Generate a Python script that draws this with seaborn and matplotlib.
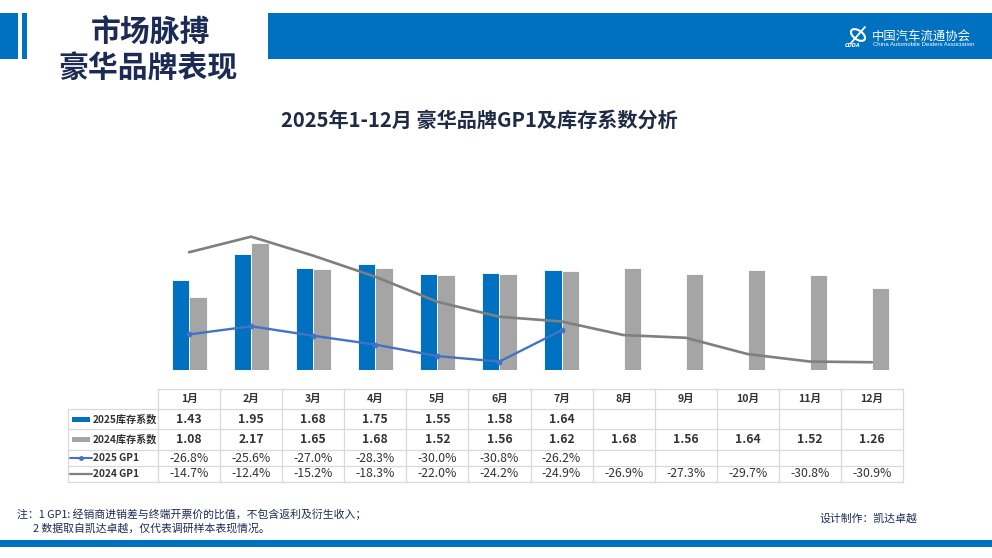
import numpy as np
import pandas as pd
import matplotlib
matplotlib.use("Agg")
import matplotlib.pyplot as plt
import matplotlib.transforms as mtrans
from matplotlib.lines import Line2D
from matplotlib.patches import Rectangle, Ellipse
import seaborn as sns

# ---------------- data ----------------
months = ["1月", "2月", "3月", "4月", "5月", "6月", "7月", "8月", "9月", "10月", "11月", "12月"]
stock_2025 = [1.43, 1.95, 1.68, 1.75, 1.55, 1.58, 1.64, None, None, None, None, None]
stock_2024 = [1.08, 2.17, 1.65, 1.68, 1.52, 1.56, 1.62, 1.68, 1.56, 1.64, 1.52, 1.26]
gp1_2025 = [-26.8, -25.6, -27.0, -28.3, -30.0, -30.8, -26.2, None, None, None, None, None]
gp1_2024 = [-14.7, -12.4, -15.2, -18.3, -22.0, -24.2, -24.9, -26.9, -27.3, -29.7, -30.8, -30.9]
series_labels = ["2025库存系数", "2024库存系数", "2025 GP1", "2024 GP1"]

title = "2025年1-12月 豪华品牌GP1及库存系数分析"
header_lines = ["市场脉搏", "豪华品牌表现"]
note_lines = ["注：1 GP1: 经销商进销差与终端开票价的比值，不包含返利及衍生收入；",
              "2 数据取自凯达卓越，仅代表调研样本表现情况。"]
credit = "设计制作：凯达卓越"
logo_cn = "中国汽车流通协会"
logo_en = "China Automobile Dealers Association"

# ---------------- style ----------------
BLUE = "#0070C0"
GRAY = "#A5A5A5"
LINE_BLUE = "#4472C4"
LINE_GRAY = "#7F7F7F"
NAVY = "#1C2B55"
TXT = "#333333"
GRID = "#D9D9D9"

sns.set_theme(style="white")
plt.rcParams["font.family"] = ["Noto Sans CJK SC", "DejaVu Sans"]

W, H = 992, 558
fig = plt.figure(figsize=(W / 100, H / 100), dpi=100)
fig.patch.set_facecolor("white")

bg = fig.add_axes([0, 0, 1, 1])
bg.set_xlim(0, W)
bg.set_ylim(H, 0)
bg.axis("off")


def fy(py):
    return 1 - py / H


base_px, top_px = 369.7, 200.0
ax = fig.add_axes([158 / W, fy(base_px), (903 - 158) / W, (base_px - top_px) / H])
ax.patch.set_alpha(0)

# ---------------- bars ----------------
bar_df = pd.DataFrame({
    "月份": months * 2,
    "系列": [series_labels[0]] * 12 + [series_labels[1]] * 12,
    "库存系数": stock_2025 + stock_2024,
}).dropna()
bar_df["库存系数"] = bar_df["库存系数"].astype(float)

sns.barplot(data=bar_df, x="月份", y="库存系数", hue="系列", order=months,
            hue_order=series_labels[:2], palette=[BLUE, GRAY], width=0.565,
            errorbar=None, saturation=1, edgecolor="white", linewidth=0.6,
            legend=False, ax=ax)

bar_min, bar_max = -0.39, 3.05
ax.set_ylim(bar_min, bar_max)
# bars start at the axis floor (as in the source chart)
for p in ax.patches:
    top = p.get_y() + p.get_height()
    p.set_y(bar_min)
    p.set_height(top - bar_min)
ax.set_xlim(-0.5, len(months) - 0.5)

# ---------------- lines ----------------
ax2 = ax.twinx()
gp_df = pd.DataFrame({
    "idx": list(range(12)) * 2,
    "系列": [series_labels[2]] * 12 + [series_labels[3]] * 12,
    "GP1": gp1_2025 + gp1_2024,
}).dropna()
gp_df["GP1"] = gp_df["GP1"].astype(float)

sns.lineplot(data=gp_df[gp_df["系列"] == series_labels[3]], x="idx", y="GP1",
             color=LINE_GRAY, linewidth=1.9, ax=ax2, legend=False)
sns.lineplot(data=gp_df[gp_df["系列"] == series_labels[2]], x="idx", y="GP1",
             color=LINE_BLUE, linewidth=1.7, marker="o", markersize=4.2,
             markeredgewidth=0, ax=ax2, legend=False)
ax2.set_ylim(-32.0, -7.0)
ax2.set_xlim(-0.5, len(months) - 0.5)
ax.set_axis_off()
ax2.set_axis_off()

# ---------------- header ----------------
bg.add_patch(Rectangle((0, 13), 18, 46, color=BLUE, lw=0))
bg.add_patch(Rectangle((22, 13), 5, 46, color=BLUE, lw=0))
bg.add_patch(Rectangle((268, 13), W - 268, 46, color=BLUE, lw=0))
bg.text(150, 33, header_lines[0], ha="center", va="center", fontsize=21.5,
        fontweight="bold", color=NAVY)
bg.text(148, 68, header_lines[1], ha="center", va="center", fontsize=21.5,
        fontweight="bold", color=NAVY)

# logo
bg.add_patch(Ellipse((858, 35), 16, 9, angle=35, fill=False, ec="white", lw=1.5))
bg.plot([851, 865], [43, 27], color="white", lw=1.3)
bg.text(845, 45.5, "CDDA", fontsize=3.6, color="white", fontweight="bold",
        fontstyle="italic", va="center", family=["DejaVu Sans"])
bg.text(872, 36, logo_cn, ha="left", va="center", fontsize=8.9, color="white")
bg.text(873, 44.8, logo_en, ha="left", va="center", fontsize=4.3, color="white",
        family=["Liberation Sans", "DejaVu Sans"])

# title
bg.text(479, 120, title, ha="center", va="center", fontsize=14.5,
        fontweight="bold", color="#1F2A44")

# ---------------- data table ----------------
tb = mtrans.blended_transform_factory(ax.transData, bg.transData)
rows = [389.0, 409.3, 429.3, 450.0, 466.0, 481.7]
centers = [(rows[i] + rows[i + 1]) / 2 for i in range(5)]
x_left_px, x_lab_px = 68, 158

bg.plot([x_lab_px, 903], [rows[0]] * 2, color=GRID, lw=0.9)
for r in rows[1:]:
    bg.plot([x_left_px, 903], [r, r], color=GRID, lw=0.9)
bg.plot([x_left_px] * 2, [rows[1], rows[-1]], color=GRID, lw=0.9)
for k in range(len(months) + 1):
    bg.add_line(Line2D([k - 0.5, k - 0.5], [rows[0], rows[-1]], color=GRID, lw=0.9,
                       transform=tb))

fs_head, fs_val, fs_lab = 7.6, 8.8, 7.3
for i, m in enumerate(months):
    bg.text(i, centers[0], m, transform=tb, ha="center", va="center", fontsize=fs_head,
            fontweight="bold", color=TXT)
    if stock_2025[i] is not None:
        bg.text(i, centers[1], f"{stock_2025[i]:.2f}", transform=tb, ha="center",
                va="center", fontsize=fs_val, fontweight="bold", color=TXT)
    if stock_2024[i] is not None:
        bg.text(i, centers[2], f"{stock_2024[i]:.2f}", transform=tb, ha="center",
                va="center", fontsize=fs_val, fontweight="bold", color=TXT)
    if gp1_2025[i] is not None:
        bg.text(i, centers[3], f"{gp1_2025[i]:.1f}%", transform=tb, ha="center",
                va="center", fontsize=fs_val, color=TXT)
    if gp1_2024[i] is not None:
        bg.text(i, centers[4], f"{gp1_2024[i]:.1f}%", transform=tb, ha="center",
                va="center", fontsize=fs_val, color=TXT)

bg.add_patch(Rectangle((72, centers[1] - 2.5), 18, 5, color=BLUE, lw=0))
bg.add_patch(Rectangle((72, centers[2] - 2.5), 18, 5, color=GRAY, lw=0))
bg.plot([70, 92], [centers[3]] * 2, color=LINE_BLUE, lw=1.5)
bg.plot([81], [centers[3]], marker="o", ms=3.5, color=LINE_BLUE, mew=0)
bg.plot([70, 92], [centers[4]] * 2, color=LINE_GRAY, lw=1.6)
for j, lab in enumerate(series_labels):
    bg.text(93, centers[j + 1], lab, ha="left", va="center", fontsize=fs_lab,
            fontweight="bold", color=TXT)

# ---------------- footer ----------------
bg.text(17, 514, note_lines[0], ha="left", va="center", fontsize=7.8, color=NAVY)
bg.text(33, 528, note_lines[1], ha="left", va="center", fontsize=7.8, color=NAVY)
bg.text(820, 519, credit, ha="left", va="center", fontsize=7.8, color=NAVY)
bg.add_patch(Rectangle((0, 540), W, 7, color=BLUE, lw=0))

fig.savefig("out.png", dpi=100, facecolor="white")
